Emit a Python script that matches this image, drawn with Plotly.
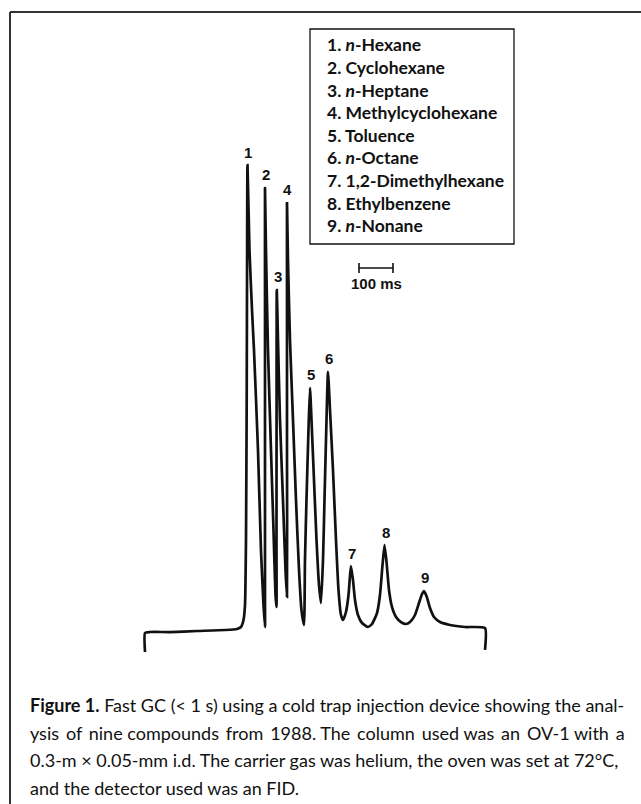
import plotly.graph_objects as go

# ---------------- data ----------------
# chromatogram trace: time in ms, detector signal in % of peak 1
time_ms = [-2.9, -2.9, 11.8, 70.6, 150.0, 232.4, 267.7, 279.4, 286.8, 291.2,
           294.1, 296.2, 297.3, 298.5, 304.4, 311.8, 317.6, 329.4, 338.2, 345.6, 350.0,
           350.0, 350.0, 350.0, 350.0, 352.9, 358.8, 367.6, 375.0, 380.9, 383.8,
           383.8, 384.1, 384.7, 388.2, 394.1, 402.9, 410.3, 414.7,
           414.7, 414.7, 414.7, 417.6, 423.5, 432.4, 441.2, 450.0, 457.3, 464.7,
           467.6, 472.0, 477.9, 482.3, 486.8, 494.1, 501.5, 508.8, 514.7,
           520.6, 525.0, 530.9, 535.3, 541.2, 550.0, 558.8, 566.2, 573.5, 579.4,
           588.2, 595.6, 600.0, 602.9, 608.8, 614.7, 623.5, 635.3, 652.9,
           664.7, 679.4, 688.2, 695.6, 701.5, 707.4, 714.7, 723.5, 735.3, 750.0, 764.7,
           776.5, 791.2, 802.9, 811.8, 817.6, 825.0, 835.3, 847.1, 864.7, 894.1,
           938.2, 997.1, 997.1]
signal = [-4.06, 0.0, 0.21, 0.21, 0.43, 0.64, 0.85, 1.28, 2.78, 5.98,
          19.9, 49.8, 79.7, 100.0, 81.8, 69.0, 60.5, 39.1, 17.7, 5.98, 1.28,
          7.05, 39.1, 71.2, 95.1, 81.8, 60.5, 39.1, 22.0, 8.1, 5.56,
          17.7, 49.8, 73.3, 62.6, 45.5, 28.4, 13.5, 7.69,
          39.1, 71.2, 92.1, 79.7, 62.6, 45.5, 28.4, 13.5, 4.9, 1.71,
          15.6, 28.4, 43.4, 52.4, 45.5, 32.7, 19.9, 10.3, 6.41,
          15.6, 28.4, 45.5, 55.8, 47.7, 34.8, 19.9, 9.19, 3.85, 2.78,
          4.49, 8.12, 12.2, 14.3, 11.3, 7.05, 3.85, 2.14, 1.28,
          1.92, 4.27, 8.12, 14.5, 18.8, 15.2, 9.19, 5.56, 3.42, 2.35, 1.92,
          2.35, 3.85, 6.41, 8.33, 8.98, 7.91, 5.34, 3.42, 2.35, 1.71,
          1.28, 1.07, -3.63]

peak_labels = ["1", "2", "3", "4", "5", "6", "7", "8", "9"]
peak_time_ms = [298.5, 350.0, 384.7, 414.7, 482.3, 535.3, 602.9, 701.5, 817.6]
peak_signal = [100.0, 95.1, 73.3, 92.1, 52.4, 55.8, 14.3, 18.8, 8.98]

compound_names = ["<i>n</i>-Hexane", "Cyclohexane", "<i>n</i>-Heptane",
                  "Methylcyclohexane", "Toluence", "<i>n</i>-Octane",
                  "1,2-Dimethylhexane", "Ethylbenzene", "<i>n</i>-Nonane"]

scale_bar_start_ms = 626.5
scale_bar_length_ms = 100
scale_bar_level = 78.0
scale_bar_label = "100 ms"

caption_lines = [
    "<b>Figure 1.</b> Fast GC (&lt; 1 s) using a cold trap injection device showing the anal-",
    "ysis of nine compounds from 1988. The column used was an OV-1 with a",
    "0.3-m × 0.05-mm i.d. The carrier gas was helium, the oven was set at 72°C,",
    "and the detector used was an FID.",
]
# lines set justified in the reference (the last line is ragged)
caption_justified = [False, True, False, False]

# ---------------- figure ----------------
W, H = 641, 804
TEXT_FONT = "Lato, Roboto, sans-serif"

fig = go.Figure()

fig.add_trace(go.Scatter(
    x=time_ms, y=signal, mode="lines",
    line=dict(color="#111111", width=2.7, shape="spline", smoothing=0.5),
    hoverinfo="skip", showlegend=False))

# scale bar
sb_x = [scale_bar_start_ms, scale_bar_start_ms + scale_bar_length_ms]
fig.add_trace(go.Scatter(
    x=sb_x, y=[scale_bar_level, scale_bar_level], mode="lines+markers",
    line=dict(color="#111111", width=1.6),
    marker=dict(symbol="line-ns", size=7, line=dict(color="#111111", width=1.6)),
    hoverinfo="skip", showlegend=False))

annotations = []
for lab, t, s in zip(peak_labels, peak_time_ms, peak_signal):
    annotations.append(dict(x=t, y=s, xref="x", yref="y", text=f"<b>{lab}</b>",
                            showarrow=False, xshift=1, yshift=13, yanchor="middle",
                            font=dict(family="Liberation Sans, Arial, sans-serif",
                                      size=15, color="#111111")))

annotations.append(dict(x=scale_bar_start_ms + scale_bar_length_ms / 2, y=scale_bar_level,
                        xref="x", yref="y", text=f"<b>{scale_bar_label}</b>", showarrow=False,
                        yshift=-15, yanchor="middle",
                        font=dict(family="Liberation Sans, Arial, sans-serif",
                                  size=15, color="#111111")))

for i, name in enumerate(compound_names):
    yc = 45 + 22.6 * i
    annotations.append(dict(x=325 / W, y=1 - yc / H, xref="paper", yref="paper",
                            xanchor="left", yanchor="middle", showarrow=False,
                            text=f"<b>{i + 1}. {name}</b>",
                            font=dict(family=TEXT_FONT, size=17.5, color="#111111")))

for i, (line, just) in enumerate(zip(caption_lines, caption_justified)):
    if just:
        # widen inter-word gaps a little to mimic justified setting
        words = line.split(" ")
        line = "".join(w + (" \u2009" if k % 3 != 2 else " ") for k, w in enumerate(words[:-1])) + words[-1]
    yc = 705 + 27.5 * i
    annotations.append(dict(x=28 / W, y=1 - yc / H, xref="paper", yref="paper",
                            xanchor="left", yanchor="middle", showarrow=False,
                            text=line,
                            font=dict(family=TEXT_FONT, size=18, color="#111111")))

shapes = [
    # legend box
    dict(type="rect", xref="paper", yref="paper",
         x0=310 / W, x1=514 / W, y0=1 - 244 / H, y1=1 - 29 / H,
         line=dict(color="#111111", width=1.3)),
    # outer frame (left and top edges visible)
    dict(type="line", xref="paper", yref="paper",
         x0=10 / W, x1=10 / W, y0=-0.05, y1=1 - 12 / H,
         line=dict(color="#333333", width=2)),
    dict(type="line", xref="paper", yref="paper",
         x0=10 / W, x1=1.05, y0=1 - 12 / H, y1=1 - 12 / H,
         line=dict(color="#333333", width=2)),
]

fig.update_layout(
    width=W, height=H, autosize=False,
    margin=dict(l=0, r=0, t=0, b=0),
    paper_bgcolor="white", plot_bgcolor="white",
    xaxis=dict(range=[-429.4, 1455.9], visible=False, fixedrange=True),
    yaxis=dict(range=[-36.54, 135.27], visible=False, fixedrange=True),
    annotations=annotations, shapes=shapes, showlegend=False,
)

fig.write_html("out.html", config={"displayModeBar": False})
